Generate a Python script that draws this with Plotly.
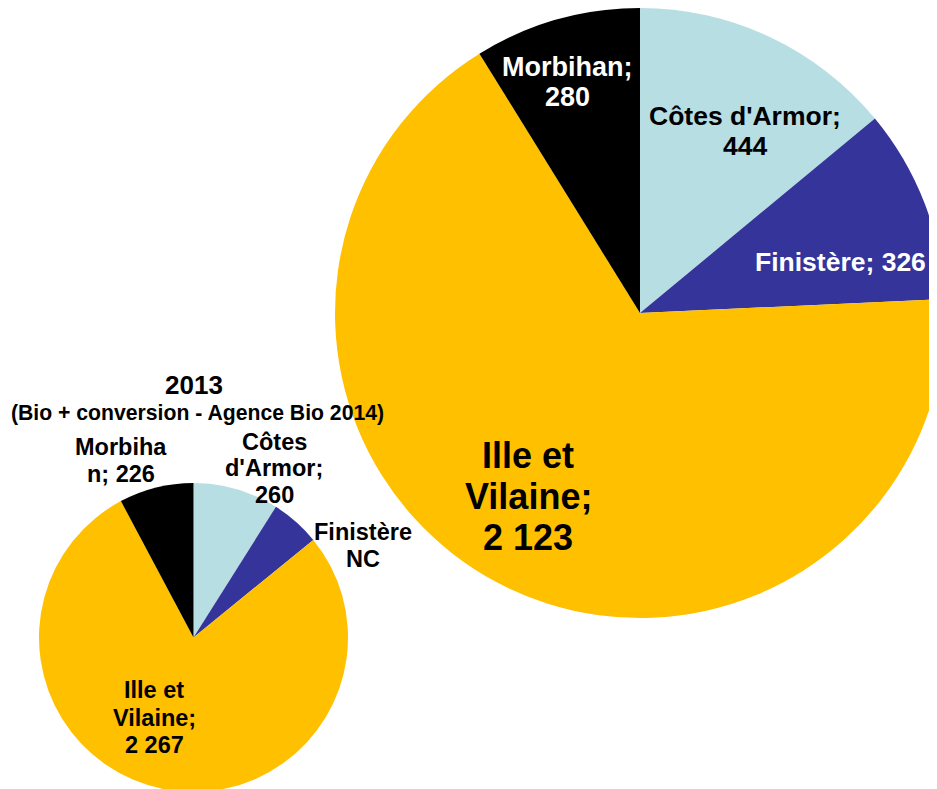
import plotly.graph_objects as go

# ---------------- data ----------------
departements = ["Côtes d'Armor", "Finistère", "Ille et Vilaine", "Morbihan"]
values_big = [444, 326, 2123, 280]            # large pie
values_small = [260, 150, 2267, 226]          # 2013 pie (Finistère slice drawn, value not communicated)
small_value_text = ["260", "NC", "2 267", "226"]
title_year = "2013"
title_source = "(Bio + conversion - Agence Bio 2014)"
colors = ["#B7DEE2", "#35349A", "#FFC000", "#000000"]

W, H = 937, 789
OFF = 8  # page body margin: screen = figure + 8
FONT = "Liberation Sans, Arial, sans-serif"


def fmt(v):
    return f"{v:,}".replace(",", " ")


def px_x(x):
    return (x - OFF) / W


def px_y(y):
    return 1 - (y - OFF) / H


fig = go.Figure()

# big pie (screen coords): center ~ (640, 313), radius ~ 305
bc_x, bc_y, br = 640, 313, 305
fig.add_trace(go.Pie(
    labels=departements, values=values_big, sort=False, direction="clockwise",
    rotation=0, marker=dict(colors=colors, line=dict(width=0)),
    textinfo="none", hoverinfo="label+value", showlegend=False,
    domain=dict(x=[px_x(bc_x - br), min(1, px_x(bc_x + br))],
                y=[px_y(bc_y + br), min(1, px_y(bc_y - br))]),
))

# small pie: center ~ (193.5, 637.5), radius ~ 154.5
sc_x, sc_y, sr = 193.5, 637.5, 154.5
fig.add_trace(go.Pie(
    labels=departements, values=values_small, sort=False, direction="clockwise",
    rotation=0, marker=dict(colors=colors, line=dict(width=0)),
    textinfo="none", hoverinfo="label+value", showlegend=False,
    domain=dict(x=[px_x(sc_x - sr), px_x(sc_x + sr)],
                y=[max(0, px_y(sc_y + sr)), px_y(sc_y - sr)]),
))

annotations = []


def add_lines(lines, cx, baseline, spacing, fs, color="black"):
    for i, line in enumerate(lines):
        b = baseline + i * spacing
        annotations.append(dict(
            text=line, x=px_x(cx), y=px_y(b - 0.35 * fs), xref="paper", yref="paper",
            xanchor="center", yanchor="middle", showarrow=False,
            font=dict(family=FONT, size=fs, color=color, weight="bold"),
        ))


# big pie labels
big_txt = [f"{d}; {fmt(v)}" for d, v in zip(departements, values_big)]
add_lines([big_txt[3][:9], big_txt[3][10:]], 567, 76, 30, 27, "white")
add_lines([big_txt[0][:14], big_txt[0][15:]], 745, 125, 30, 26.5, "black")
add_lines([big_txt[1]], 840, 271.7, 30, 26.5, "white")
add_lines([big_txt[2][:7], big_txt[2][8:16], big_txt[2][17:]], 528, 467.7, 41, 36, "black")

# small pie labels
small_txt = [f"{d}; {t}" for d, t in zip(departements, small_value_text)]
add_lines([small_txt[3][:7], small_txt[3][7:]], 120.5, 455, 27.7, 23.5)
add_lines([small_txt[0][:5], small_txt[0][6:14], small_txt[0][15:]], 274, 450, 26.7, 23.5)
add_lines([departements[1], small_value_text[1]], 363, 540.7, 26.6, 23.5)
add_lines([small_txt[2][:7], small_txt[2][8:16], small_txt[2][17:]], 154, 698.3, 27.5, 23.5)

# titles
add_lines([title_year], 194, 394.3, 0, 26)
add_lines([title_source], 197.5, 420, 0, 21.2)

fig.update_layout(
    width=W, height=H, margin=dict(l=0, r=0, t=0, b=0),
    paper_bgcolor="white", plot_bgcolor="white",
    annotations=annotations, showlegend=False,
)

fig.write_html("out.html")
